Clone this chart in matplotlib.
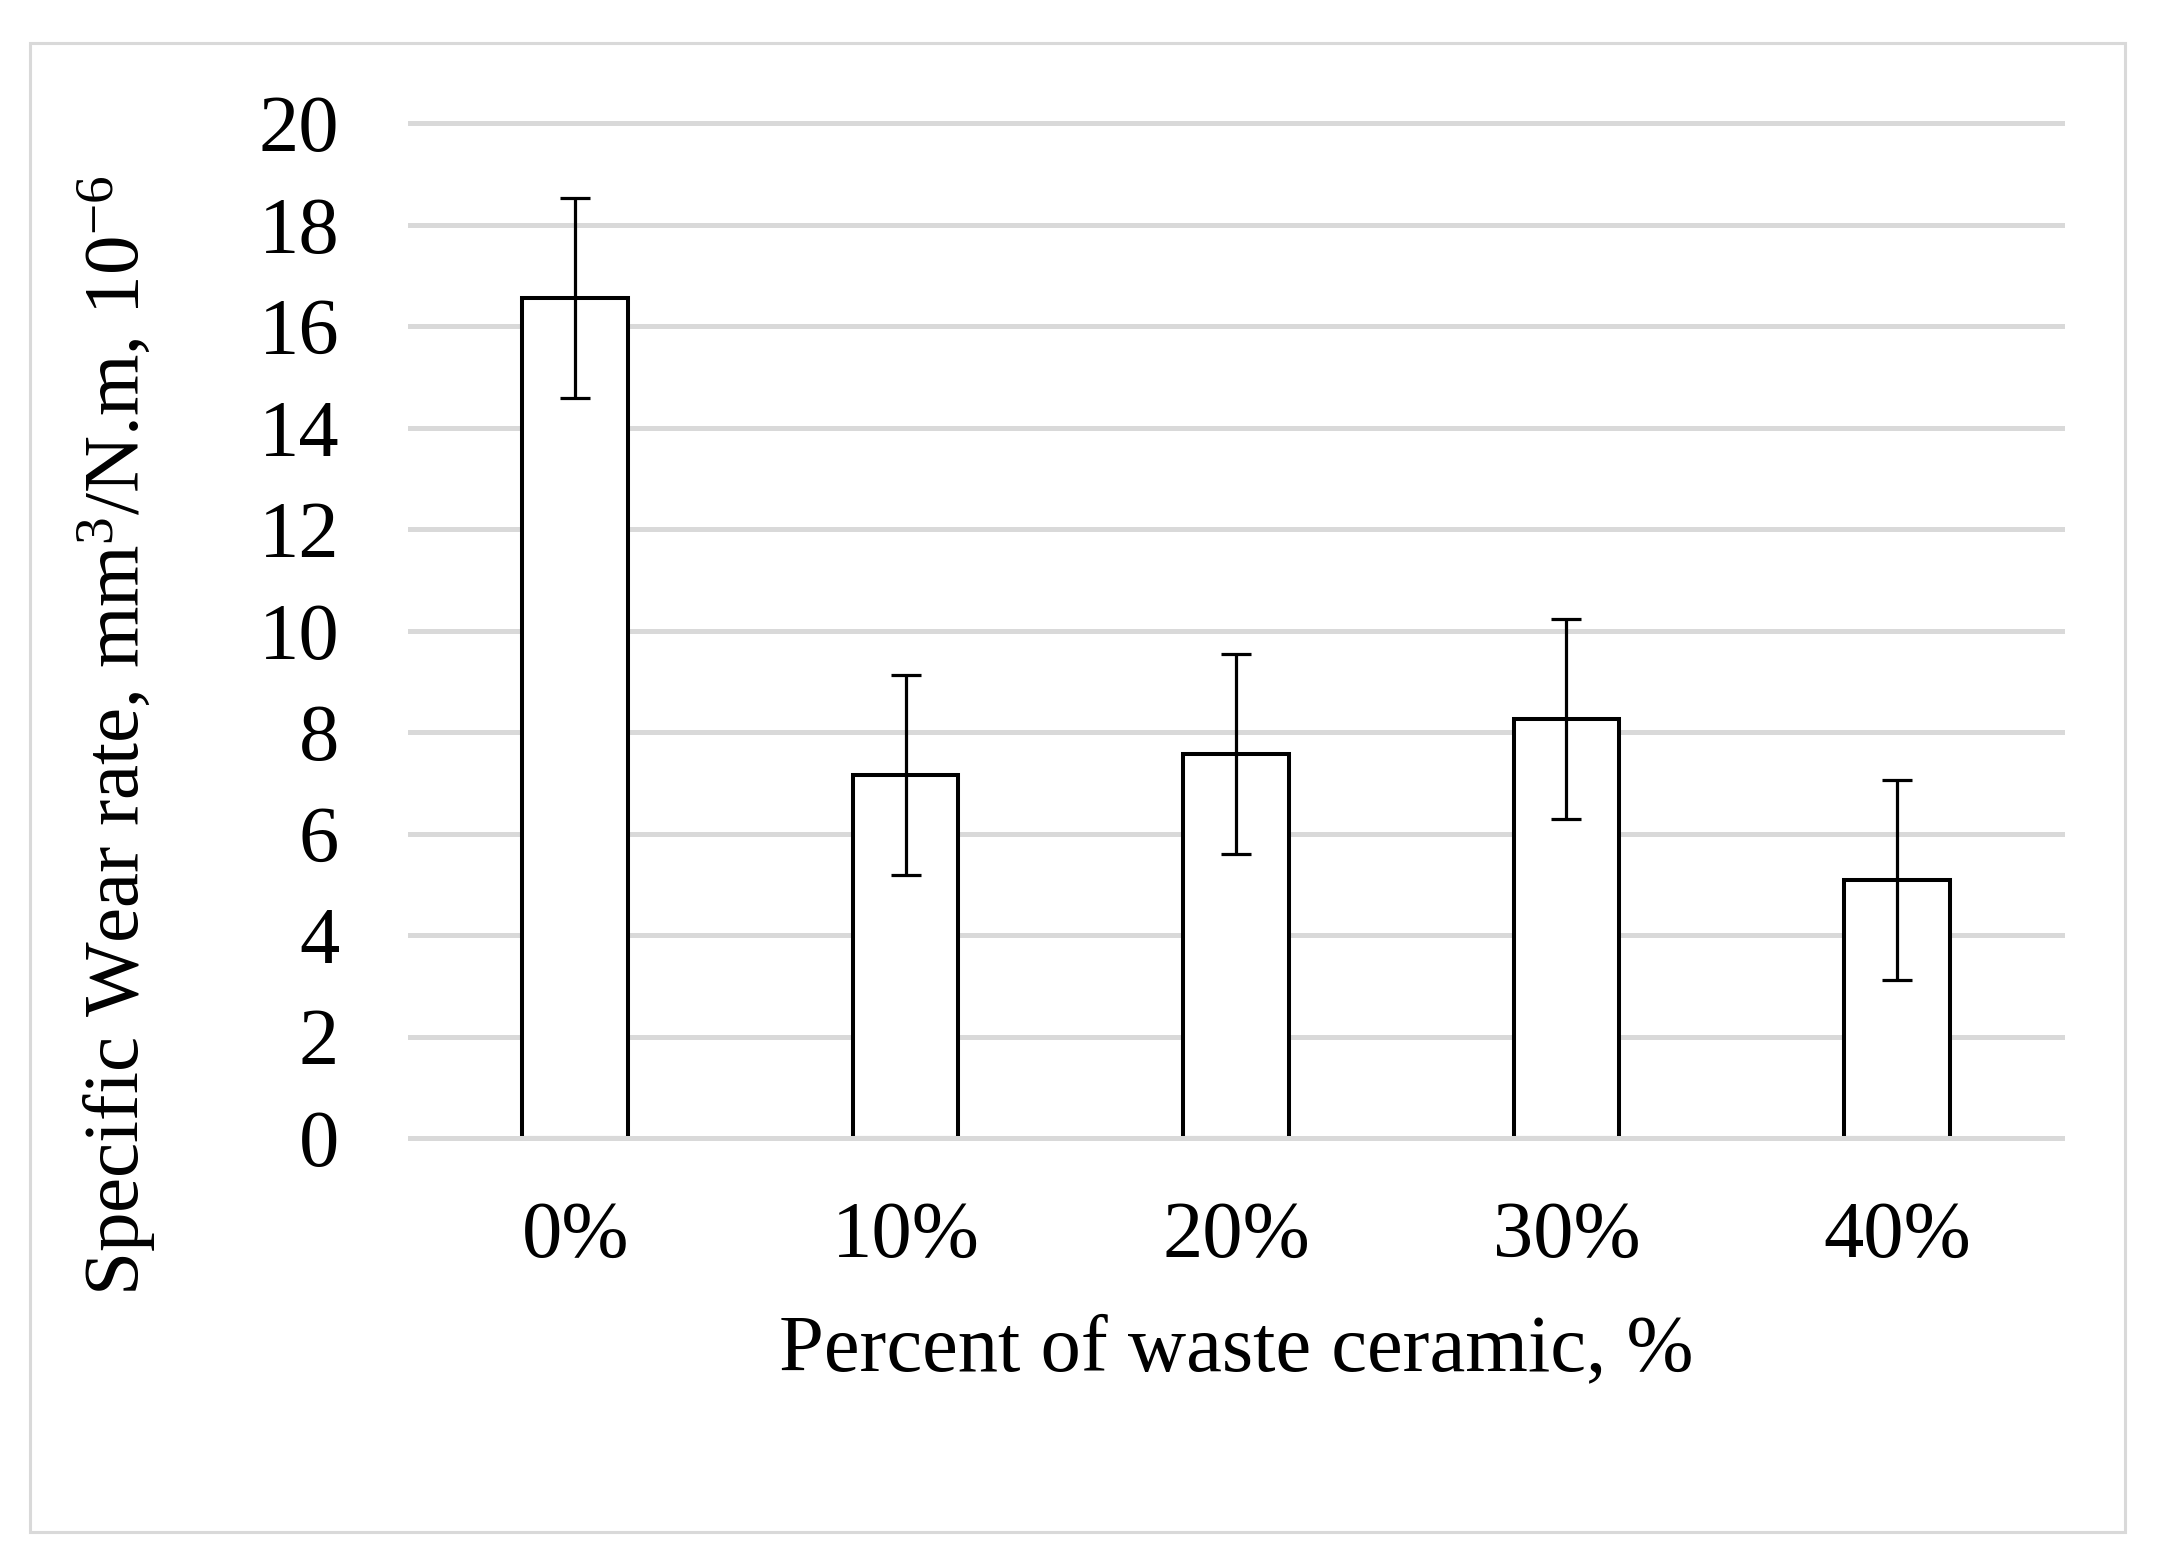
import matplotlib
matplotlib.use('Agg')
import matplotlib.pyplot as plt
from matplotlib.patches import Rectangle

# values
categories = ['0%', '10%', '20%', '30%', '40%']
wear_rate = [16.55, 7.15, 7.56, 8.26, 5.08]
wear_err = [1.97, 1.97, 1.97, 1.97, 1.97]
y_ticks = [0, 2, 4, 6, 8, 10, 12, 14, 16, 18, 20]


def main():
    plt.rcParams['font.family'] = ['Liberation Serif', 'DejaVu Serif']
    plt.rcParams['mathtext.fontset'] = 'custom'
    plt.rcParams['mathtext.rm'] = 'Liberation Serif'
    plt.rcParams['mathtext.it'] = 'Liberation Serif:italic'

    W, H = 2158, 1553
    fig = plt.figure(figsize=(W / 100, H / 100), dpi=100)
    ax = fig.add_axes([410 / W, 1 - 1138 / H, (2062 - 410) / W, (1138 - 123) / H])

    grey = '#d9d9d9'
    x = list(range(len(categories)))
    ax.bar(x, wear_rate, width=0.32, color='white', edgecolor='black',
           linewidth=2.9, zorder=2)
    ax.errorbar(x, wear_rate, yerr=wear_err, fmt='none', ecolor='black',
                elinewidth=2.3, capsize=11, capthick=2.3, zorder=4)
    ax.axhline(0, color=grey, linewidth=3.6, zorder=3, clip_on=False)

    ax.set_xlim(-0.5, len(categories) - 0.5)
    ax.set_ylim(0, 20)
    ax.set_yticks(y_ticks)
    ax.set_xticks(x)
    ax.set_xticklabels(categories)
    ax.tick_params(axis='both', length=0, labelsize=58)
    ax.tick_params(axis='x', pad=45)
    ax.tick_params(axis='y', pad=51)

    ax.yaxis.grid(True, color=grey, linewidth=3.6)
    ax.set_axisbelow(True)
    for line in ax.get_ygridlines():
        line.set_clip_on(False)
    for s in ax.spines.values():
        s.set_visible(False)

    fig.text(1236 / W, 1 - 1370 / H, 'Percent of waste ceramic, %',
             ha='center', va='baseline', fontsize=58)
    fig.text(117 / W, 1 - 736 / H, r'Specific Wear rate, mm$^3$/N.m, 10$^{-6}$',
             ha='center', va='center', rotation=90, fontsize=57)

    # light grey frame around the chart
    fig.patches.append(Rectangle((30 / W, 1 - 1532 / H), (2125 - 30) / W, (1532 - 43) / H,
                                 transform=fig.transFigure, fill=False,
                                 edgecolor=grey, linewidth=2.2))

    fig.savefig('out.png', dpi=100, facecolor='white')


if __name__ == '__main__':
    main()
